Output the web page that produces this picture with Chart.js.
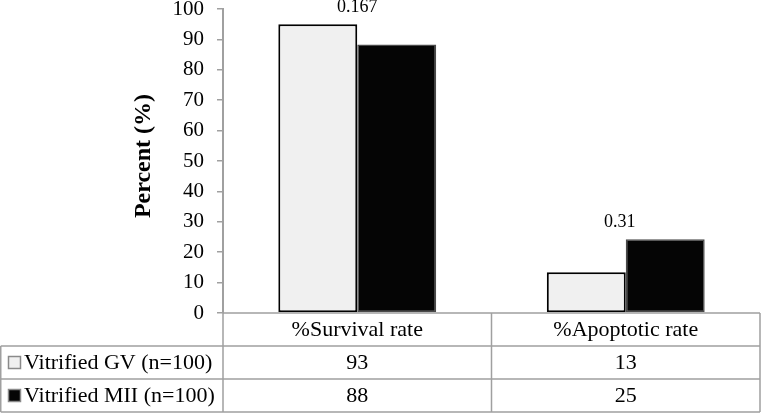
<!DOCTYPE html>
<html>
<head>
<meta charset="utf-8">
<script src="https://cdn.jsdelivr.net/npm/chart.js@4/dist/chart.umd.min.js"></script>
<style>
html,body{margin:0;padding:0;background:#fff;}
#wrap{width:761px;height:413px;position:relative;}
</style>
</head>
<body>
<div id="wrap"><canvas id="c" width="761" height="413"></canvas></div>
<script>
const categories = ['%Survival rate', '%Apoptotic rate'];
const seriesNames = ['Vitrified GV (n=100)', 'Vitrified MII (n=100)'];
const gvBars = [95, 13.4];
const miiBars = [88.3, 24.3];
const gvTable = ['93', '13'];
const miiTable = ['88', '25'];
const pValues = ['0.167', '0.31'];
const yTicks = [0, 10, 20, 30, 40, 50, 60, 70, 80, 90, 100];
const yTitle = 'Percent (%)';

const SERIF = "'Liberation Serif', 'Times New Roman', serif";
const GRID = '#a0a0a0';

const tablePlugin = {
  id: 'table',
  afterDraw(chart) {
    const ctx = chart.ctx;
    const x = chart.scales.x;
    const ca = chart.chartArea;
    const top = ca.bottom;
    const rowH = 33;
    const r1 = top + rowH, r2 = r1 + rowH, r3 = r2 + rowH;
    const right = ca.right;
    const mid = (x.getPixelForValue(0) + x.getPixelForValue(1)) / 2;
    ctx.save();
    ctx.strokeStyle = GRID;
    ctx.lineWidth = 1.5;
    ctx.beginPath();
    ctx.moveTo(ca.left, top); ctx.lineTo(right, top);
    [r1, r2, r3].forEach(y => { ctx.moveTo(0.75, y); ctx.lineTo(right, y); });
    ctx.moveTo(ca.left, top); ctx.lineTo(ca.left, r3);
    ctx.moveTo(mid, top); ctx.lineTo(mid, r3);
    ctx.moveTo(right, top); ctx.lineTo(right, r3);
    ctx.moveTo(0.75, r1); ctx.lineTo(0.75, r3);
    ctx.stroke();

    ctx.fillStyle = '#000';
    ctx.font = '22px ' + SERIF;
    ctx.textAlign = 'center';
    ctx.textBaseline = 'middle';
    categories.forEach((c, i) => {
      const cx = x.getPixelForValue(i);
      ctx.fillText(c, cx, (top + r1) / 2 + 1);
      ctx.fillText(gvTable[i], cx, (r1 + r2) / 2 + 1);
      ctx.fillText(miiTable[i], cx, (r2 + r3) / 2 + 1);
    });
    const rows = [[(r1 + r2) / 2, '#f0f0f0', seriesNames[0]], [(r2 + r3) / 2, '#050505', seriesNames[1]]];
    rows.forEach(([cy, fill, name]) => {
      ctx.fillStyle = fill;
      ctx.fillRect(8.5, cy - 6, 12, 12);
      ctx.strokeStyle = '#8a8a8a';
      ctx.lineWidth = 1.5;
      ctx.strokeRect(8.5, cy - 6, 12, 12);
      ctx.fillStyle = '#000';
      ctx.textAlign = 'left';
      ctx.fillText(name, 24, cy + 1);
    });

    // y-axis title
    ctx.save();
    ctx.translate(144, (ca.top + ca.bottom) / 2 - 5);
    ctx.rotate(-Math.PI / 2);
    ctx.font = 'bold 24px ' + SERIF;
    ctx.textAlign = 'center';
    ctx.textBaseline = 'middle';
    ctx.fillStyle = '#000';
    ctx.fillText(yTitle, 0, 0);
    ctx.restore();
    ctx.restore();
  }
};

const pPlugin = {
  id: 'pvals',
  afterDatasetsDraw(chart) {
    const ctx = chart.ctx;
    const x = chart.scales.x, y = chart.scales.y;
    ctx.save();
    ctx.fillStyle = '#000';
    ctx.font = '18px ' + SERIF;
    ctx.textAlign = 'center';
    ctx.textBaseline = 'middle';
    pValues.forEach((p, i) => {
      const m = Math.max(gvBars[i], miiBars[i]);
      ctx.fillText(p, x.getPixelForValue(i) - (i === 1 ? 6 : 0), y.getPixelForValue(m) - 17);
    });
    ctx.restore();
  }
};

new Chart(document.getElementById('c'), {
  type: 'bar',
  data: {
    labels: categories,
    datasets: [
      { label: seriesNames[0], data: gvBars, backgroundColor: '#f0f0f0', borderColor: '#000', borderWidth: 2, borderSkipped: false },
      { label: seriesNames[1], data: miiBars, backgroundColor: '#050505', borderColor: '#4a4a4a', borderWidth: 1.5, borderSkipped: false }
    ]
  },
  options: {
    responsive: false,
    animation: false,
    events: [],
    layout: { padding: { top: 9, bottom: 100, left: 0, right: 1 } },
    plugins: { legend: { display: false }, tooltip: { enabled: false } },
    datasets: { bar: { categoryPercentage: 0.588, barPercentage: 1 } },
    scales: {
      x: { display: false },
      y: {
        min: 0, max: 100,
        afterBuildTicks(s) { s.ticks = yTicks.map(v => ({ value: v })); },
        afterFit(s) { s.width = 223; s.paddingTop = 0; s.paddingBottom = 0; },
        ticks: { color: '#000', font: { family: SERIF, size: 21 }, padding: 13 },
        grid: { drawOnChartArea: false, drawTicks: true, tickLength: 6, color: GRID, lineWidth: 1.5 },
        border: { display: true, color: GRID, width: 2 },
        title: { display: false }
      }
    }
  },
  plugins: [tablePlugin, pPlugin]
});
</script>
</body>
</html>
